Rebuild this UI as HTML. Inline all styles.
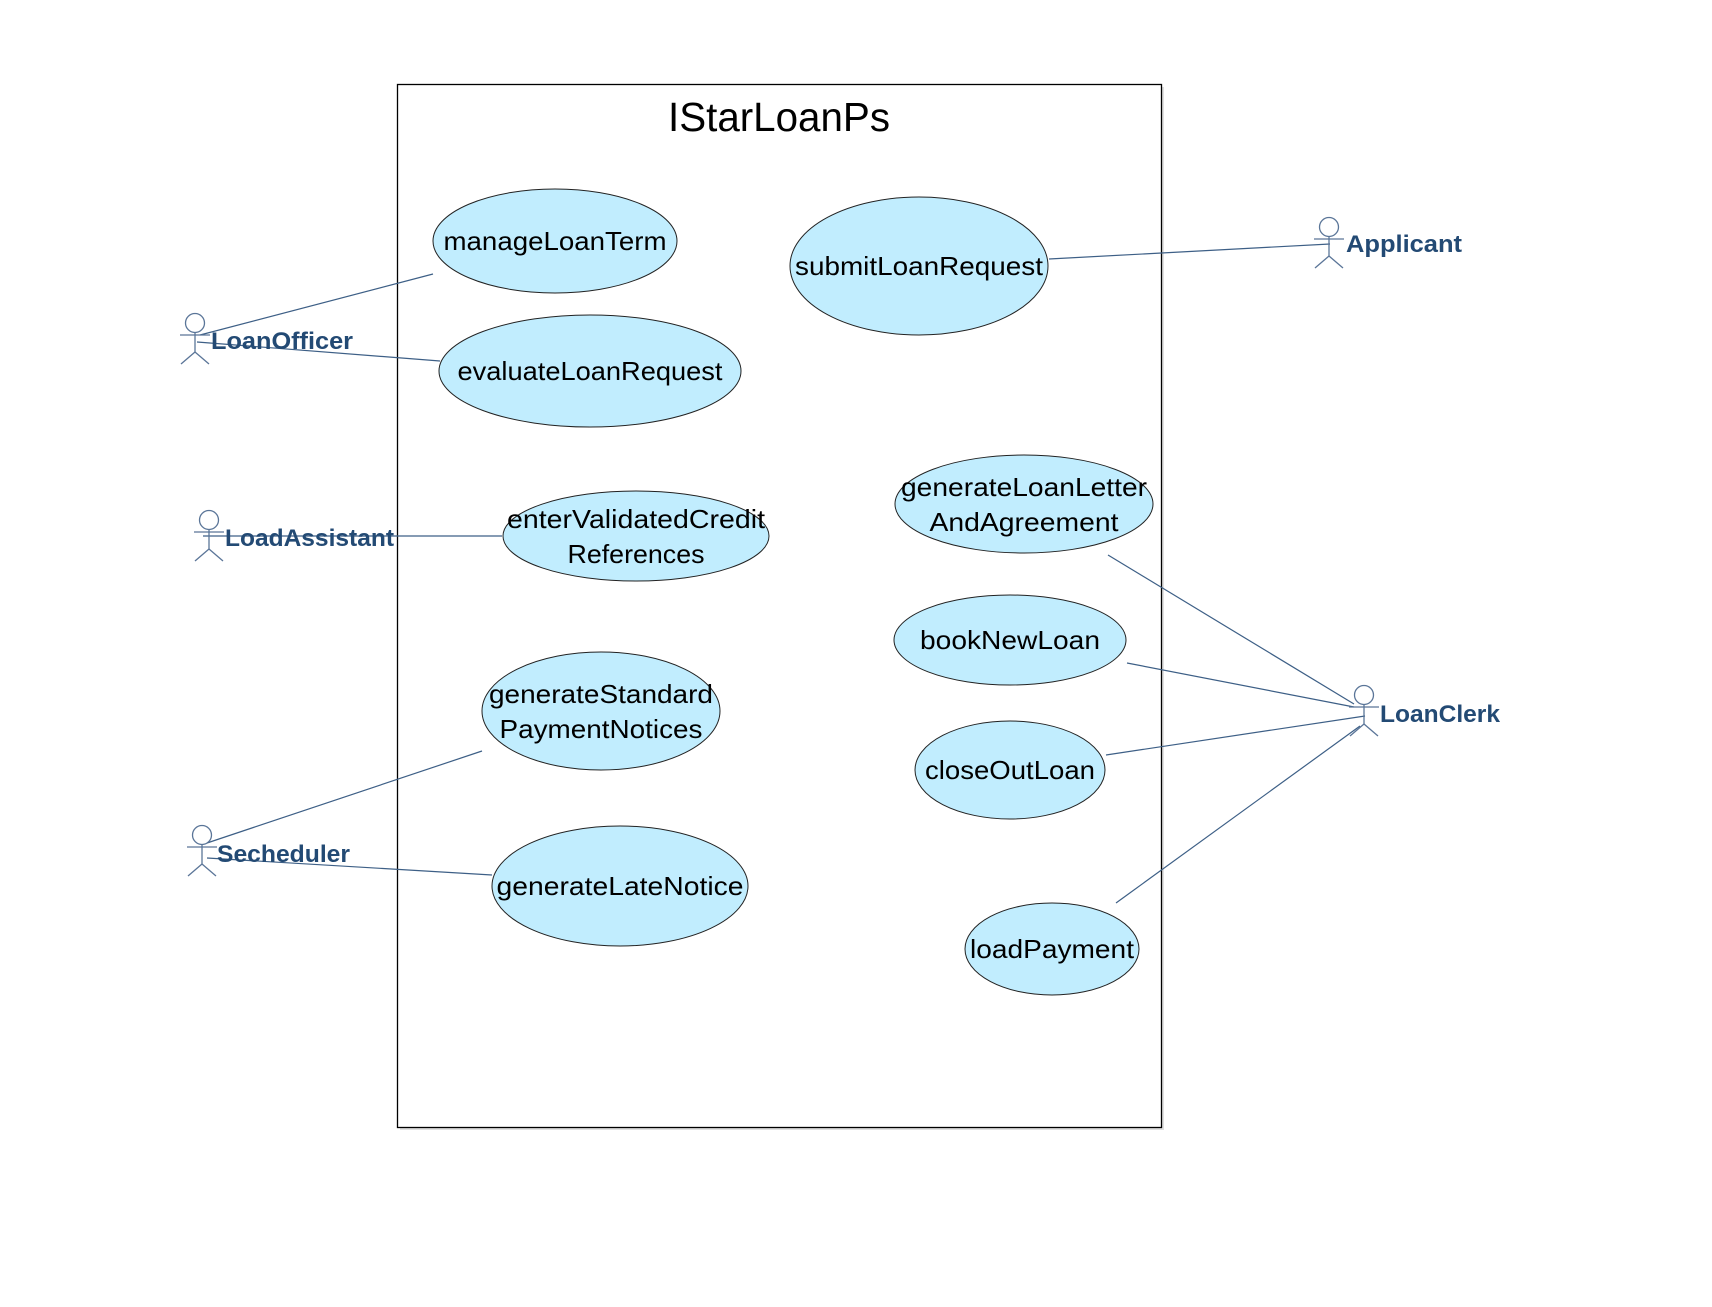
<!DOCTYPE html>
<html><head><meta charset="utf-8"><style>html,body{margin:0;padding:0;background:#fff}svg{display:block}</style></head>
<body>
<svg width="1712" height="1307" viewBox="0 0 1712 1307" xmlns="http://www.w3.org/2000/svg">
<rect x="0" y="0" width="1712" height="1307" fill="#fff"/>
<rect x="400" y="87" width="764" height="1043" fill="#e0e0e0"/>
<rect x="397.5" y="84.5" width="764" height="1043" fill="#fff" stroke="#000" stroke-width="1.3"/>
<text x="779" y="131" font-family="Liberation Sans, sans-serif" font-size="41" text-anchor="middle" textLength="222" lengthAdjust="spacingAndGlyphs">IStarLoanPs</text>
<g stroke="#3d5f86" stroke-width="1.2" fill="none">
<line x1="200" y1="335" x2="433" y2="274"/>
<line x1="197" y1="342" x2="440" y2="361"/>
<line x1="1049" y1="259" x2="1330" y2="244"/>
<line x1="203" y1="536" x2="502" y2="536"/>
<line x1="207" y1="843" x2="482" y2="751"/>
<line x1="207" y1="858" x2="492" y2="875"/>
<line x1="1108" y1="555" x2="1354" y2="704"/>
<line x1="1127" y1="663" x2="1354" y2="707"/>
<line x1="1106" y1="755" x2="1365" y2="716"/>
<line x1="1116" y1="903" x2="1360" y2="726"/>
</g>
<g fill="#c1edfe" stroke="#222" stroke-width="1">
<ellipse cx="555" cy="241" rx="122" ry="52"/>
<ellipse cx="919" cy="266" rx="129" ry="69"/>
<ellipse cx="590" cy="371" rx="151" ry="56"/>
<ellipse cx="1024" cy="504" rx="129" ry="49"/>
<ellipse cx="636" cy="536" rx="133" ry="45"/>
<ellipse cx="1010" cy="640" rx="116" ry="45"/>
<ellipse cx="601" cy="711" rx="119" ry="59"/>
<ellipse cx="1010" cy="770" rx="95" ry="49"/>
<ellipse cx="620" cy="886" rx="128" ry="60"/>
<ellipse cx="1052" cy="949" rx="87" ry="46"/>
</g>
<g font-family="Liberation Sans, sans-serif" font-size="26" text-anchor="middle" fill="#000" lengthAdjust="spacingAndGlyphs">
<text x="555" y="250" textLength="223" lengthAdjust="spacingAndGlyphs">manageLoanTerm</text>
<text x="919" y="275" textLength="248" lengthAdjust="spacingAndGlyphs">submitLoanRequest</text>
<text x="590" y="380" textLength="265" lengthAdjust="spacingAndGlyphs">evaluateLoanRequest</text>
<text x="1024" y="496" textLength="246" lengthAdjust="spacingAndGlyphs">generateLoanLetter</text>
<text x="1024" y="531" textLength="189" lengthAdjust="spacingAndGlyphs">AndAgreement</text>
<text x="636" y="528" textLength="258" lengthAdjust="spacingAndGlyphs">enterValidatedCredit</text>
<text x="636" y="563" textLength="137" lengthAdjust="spacingAndGlyphs">References</text>
<text x="1010" y="649" textLength="180" lengthAdjust="spacingAndGlyphs">bookNewLoan</text>
<text x="601" y="703" textLength="224" lengthAdjust="spacingAndGlyphs">generateStandard</text>
<text x="601" y="738" textLength="203" lengthAdjust="spacingAndGlyphs">PaymentNotices</text>
<text x="1010" y="779" textLength="170" lengthAdjust="spacingAndGlyphs">closeOutLoan</text>
<text x="620" y="895" textLength="247" lengthAdjust="spacingAndGlyphs">generateLateNotice</text>
<text x="1052" y="958" textLength="164" lengthAdjust="spacingAndGlyphs">loadPayment</text>
</g>
<defs>
<g id="actor" stroke="#5a7598" stroke-width="1.3" fill="none">
<circle cx="0" cy="0" r="9.5"/>
<line x1="0" y1="9.5" x2="0" y2="29"/>
<line x1="-15" y1="12" x2="15" y2="12"/>
<line x1="0" y1="29" x2="-14" y2="41"/>
<line x1="0" y1="29" x2="14" y2="41"/>
</g>
</defs>
<use href="#actor" x="1329" y="227"/>
<use href="#actor" x="195" y="323"/>
<use href="#actor" x="209" y="520"/>
<use href="#actor" x="202" y="835"/>
<use href="#actor" x="1364" y="695"/>
<g font-family="Liberation Sans, sans-serif" font-size="24" font-weight="bold" fill="#234a74">
<text x="1346" y="252" textLength="116" lengthAdjust="spacingAndGlyphs">Applicant</text>
<text x="211" y="349" textLength="142" lengthAdjust="spacingAndGlyphs">LoanOfficer</text>
<text x="225" y="546" textLength="169" lengthAdjust="spacingAndGlyphs">LoadAssistant</text>
<text x="217" y="862" textLength="133" lengthAdjust="spacingAndGlyphs">Secheduler</text>
<text x="1380" y="722" textLength="120" lengthAdjust="spacingAndGlyphs">LoanClerk</text>
</g>
</svg>
</body></html>
